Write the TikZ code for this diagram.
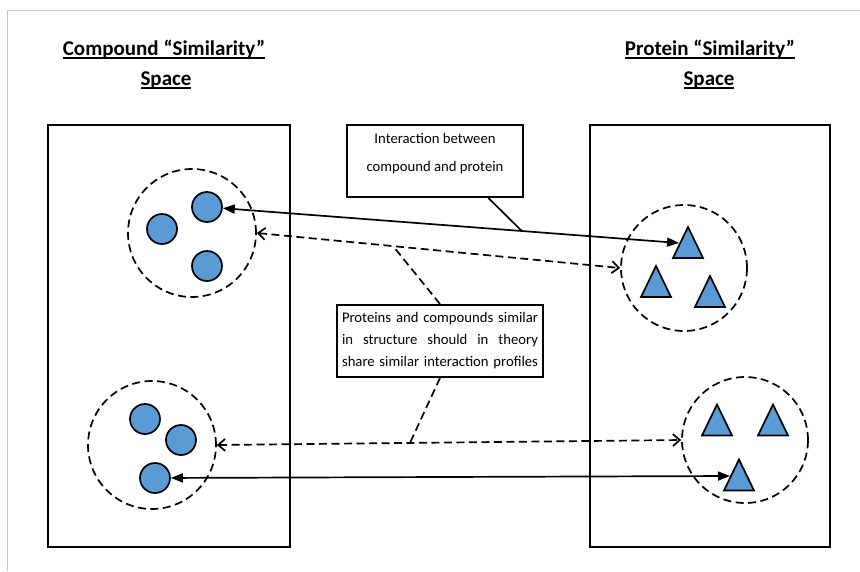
\documentclass[tikz,border=0pt]{standalone}
\usepackage{fontspec}
\setmainfont{Carlito}
\usetikzlibrary{arrows.meta,calc}
\definecolor{ballblue}{HTML}{5B9BD5}
\newcommand\myul[1]{\setbox0\hbox{#1}\rlap{\rule[-3.8pt]{\wd0}{1.7pt}}\box0}
\begin{document}
\begin{tikzpicture}[x=1pt,y=-1pt,
 frame/.style={draw, line width=2pt, inner sep=0pt},
 ball/.style={circle, draw, fill=ballblue, line width=1.7pt, minimum size=30pt, inner sep=0pt},
 grp/.style={circle, draw, dash pattern=on 8pt off 4.5pt, line width=1.7pt, inner sep=0pt},
 tri/.style={draw, fill=ballblue, line width=1.7pt, line join=miter},
 solidarr/.style={line width=1.7pt, {Triangle[length=12pt,width=9pt]}-{Triangle[length=12pt,width=9pt]}},
 dasharr/.style={line width=1.7pt, dash pattern=on 8pt off 4.5pt, {Straight Barb[length=7pt,width=12pt]}-{Straight Barb[length=7pt,width=12pt]}},
 titletext/.style={font=\fontsize{21}{30}\selectfont\bfseries, inner sep=0pt, anchor=base},
 note/.style={draw, line width=2pt, font=\fontsize{14.7}{22}\selectfont, inner sep=0pt},
 lead/.style={line width=1.7pt}
]
\fill[white] (0,0) rectangle (860,571);
\useasboundingbox (0,0) rectangle (860,571);
\draw[black!22, line width=1pt] (7,571) -- (7,10) -- (860,10);

% titles
\node[titletext] (lt1) at (164,55) {\myul{Compound “Similarity”}};
\node[titletext] (lt2) at (166,85) {\myul{Space}};
\node[titletext] (rt1) at (710,55) {\myul{Protein “Similarity”}};
\node[titletext] (rt2) at (709,85) {\myul{Space}};

% spaces
\node[frame, minimum width=242pt, minimum height=422pt] (lbox) at (169,336) {};
\node[frame, minimum width=240pt, minimum height=422pt] (rbox) at (710,336) {};

% groups
\node[grp, minimum size=128pt] (g1) at (192,233) {};
\node[grp, minimum size=126pt] (g2) at (684,268) {};
\node[grp, minimum size=128pt] (g3) at (152,445) {};
\node[grp, minimum size=126pt] (g4) at (745,440) {};

% compounds
\node[ball] (c1) at (207,207) {};
\node[ball] (c2) at (162,229) {};
\node[ball] (c3) at (207,266) {};
\node[ball] (c4) at (145,419) {};
\node[ball] (c5) at (181,440) {};
\node[ball] (c6) at (155,478) {};

% proteins
\coordinate (t1) at (688,242.5);
\coordinate (t2) at (656,281.5);
\coordinate (t3) at (710,291.5);
\coordinate (t4) at (717,420);
\coordinate (t5) at (773,420);
\coordinate (t6) at (739,475);
\foreach \t in {t1,t2,t3,t4,t5,t6}
  \draw[tri] (\t) ++(0,-15.5) -- ++(15,31) -- ++(-30,0) -- cycle;
\coordinate (t1w) at (679,243);
\coordinate (t6w) at (730,476);

% interactions
\draw[solidarr] (c1) -- (t1w);
\draw[solidarr] (c6) -- (t6w);
\draw[dasharr] (g1.east) -- (g2.west);
\draw[dasharr] (g3.east) -- (g4.west);

% notes
\node[note, minimum width=176pt, minimum height=72pt, fill=white] (ibox) at (435,161) {};
\node[font=\fontsize{14.7}{22}\selectfont, align=center, inner sep=0pt] (ibt) at (435,154) {Interaction between\\[6pt]compound and protein};
\node[note, minimum width=206pt, minimum height=72pt, align=center, fill=white] (mbox) at (440,341)
 {\makebox[196pt][s]{Proteins and compounds similar}\\
  \makebox[196pt][s]{in structure should in theory}\\
  \makebox[196pt][s]{share similar interaction profiles}};

% leaders
\draw[lead] ($(ibox.south west)!0.8!(ibox.south east)$) -- ($(c1)!0.667!(t1w)$);
\draw[lead, dash pattern=on 8pt off 4.5pt] (mbox.north) -- ($(g1.east)!0.375!(g2.west)$);
\draw[lead, dash pattern=on 8pt off 4.5pt] (mbox.south) -- ($(g3.east)!0.416!(g4.west)$);
\end{tikzpicture}
\end{document}
